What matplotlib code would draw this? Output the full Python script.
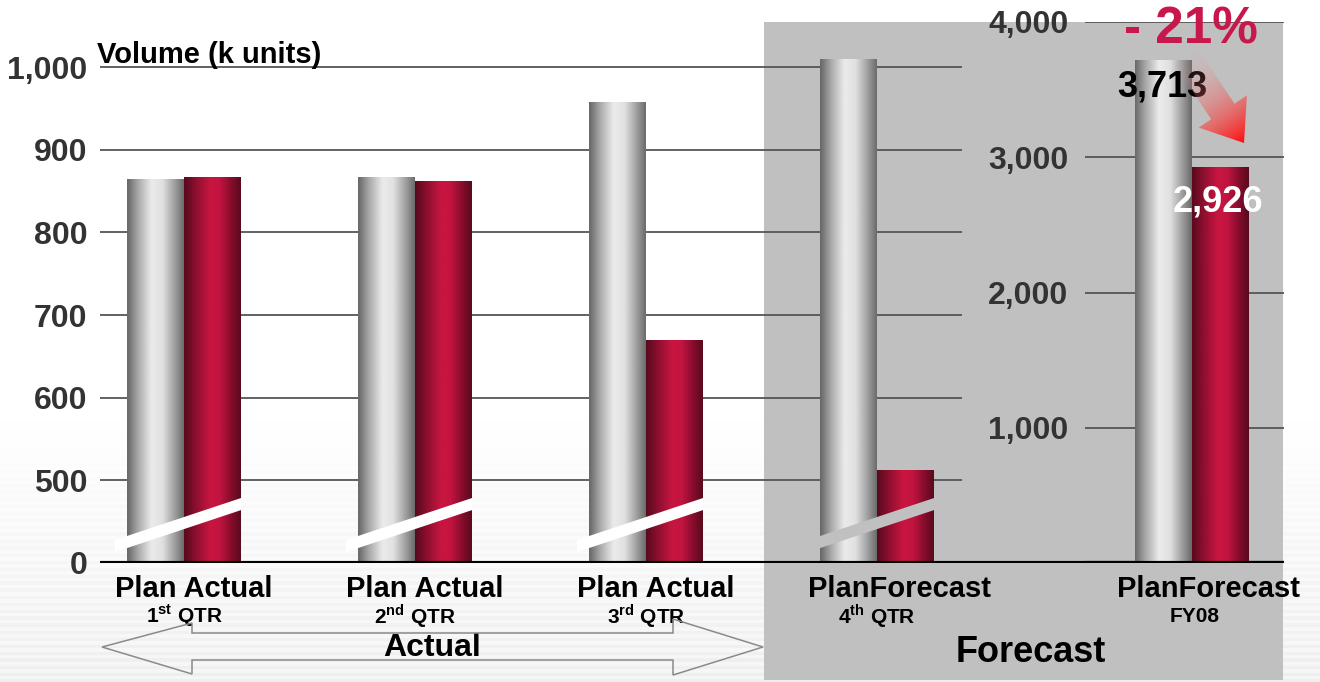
import numpy as np
import matplotlib
matplotlib.use('Agg')
import matplotlib.pyplot as plt
from matplotlib.patches import Polygon, Rectangle
from matplotlib.transforms import blended_transform_factory
from matplotlib.ticker import FuncFormatter

plt.rcParams['font.family'] = ['Liberation Sans', 'DejaVu Sans']
plt.rcParams['font.weight'] = 'bold'
plt.rcParams['mathtext.fontset'] = 'custom'
plt.rcParams['mathtext.rm'] = 'Liberation Sans:bold'
plt.rcParams['mathtext.bf'] = 'Liberation Sans:bold'

# Data
quarters = [r'1$^{\rm st}$ QTR', r'2$^{\rm nd}$ QTR', r'3$^{\rm rd}$ QTR', r'4$^{\rm th}$ QTR']
bar_names = ['Plan Actual', 'Plan Actual', 'Plan Actual', 'PlanForecast']
plan_q = [865, 868, 958, 1010]
result_q = [868, 863, 670, 513]
fy_label = 'FY08'
fy_plan = 3713
fy_forecast = 2926
left_ticks = [0, 500, 600, 700, 800, 900, 1000]
right_ticks = [1000, 2000, 3000, 4000]
change_text = '- 21%'

W, H = 1320, 682
PX = 231.0          # pixels per group step
w = 57 / PX         # bar width in group units
panel_col = '#c0c0c0'
grid_col = '#555555'
tick_col = '#333333'


def fx(px):
    return px / W


def fy(py):
    return 1 - py / H


# broken axis: 0..500 squeezed into 400..500
def fwd(v):
    v = np.asarray(v, dtype=float)
    return np.where(v >= 500, v, 400 + v / 5.0)


def inv(v):
    v = np.asarray(v, dtype=float)
    return np.where(v >= 500, v, (v - 400) * 5.0)


def gradient(stops):
    t = np.linspace(0, 1, 64)
    pos = [s[0] for s in stops]
    cols = [matplotlib.colors.to_rgb(s[1]) for s in stops]
    rgb = np.stack([np.interp(t, pos, [c[i] for c in cols]) for i in range(3)], axis=1)
    return rgb[None, :, :]


gray_grad = gradient([(0, '#6a6a6a'), (0.18, '#a8a8a8'), (0.42, '#ebebeb'),
                      (0.62, '#e0e0e0'), (0.85, '#9a9a9a'), (1, '#6a6a6a')])
red_grad = gradient([(0, '#5a0a1e'), (0.2, '#8e0f30'), (0.45, '#c81640'),
                     (0.62, '#c21440'), (0.85, '#800c2a'), (1, '#580a1c')])


def paint_bars(axis, bars, grad):
    for b in bars:
        x0 = b.get_x()
        axis.imshow(grad, extent=(x0, x0 + b.get_width(), 0, b.get_height()),
                    aspect='auto', interpolation='bicubic', zorder=2)


fig = plt.figure(figsize=(W / 100, H / 100), dpi=100)

# background with faint stripes and the grey forecast panel
bg = fig.add_axes([0, 0, 1, 1], zorder=-2)
bg.set_xlim(0, W)
bg.set_ylim(H, 0)
bg.axis('off')
rows = np.arange(H)
shade = np.ones(H)
m = rows > 420
s = (rows[m] - 420) / (H - 420)
shade[m] = 1 - s * (0.035 + 0.03 * (np.sin(2 * np.pi * rows[m] / 7) > 0))
bg.imshow(np.repeat(shade[:, None], 3, axis=1)[:, None, :], extent=(0, W, H, 0),
          aspect='auto', interpolation='nearest')
bg.add_patch(Rectangle((764, 22), 1283 - 764, 680 - 22, fc=panel_col, ec='none'))

# quarterly axes
ax = fig.add_axes([fx(100), fy(563), fx(1284) - fx(100), fy(22) - fy(563)])
ax.set_facecolor('none')
ax.set_yscale('function', functions=(fwd, inv))
centers = np.arange(len(plan_q))
b1 = ax.bar(centers - w, plan_q, width=w, align='edge', color='none', lw=0)
b2 = ax.bar(centers, result_q, width=w, align='edge', color='none', lw=0)
paint_bars(ax, b1, gray_grad)
paint_bars(ax, b2, red_grad)
ax.set_xlim((100 - 184) / PX, (1284 - 184) / PX)
ax.set_ylim(0, 1054.5)
ax.hlines(left_ticks[1:], (100 - 184) / PX, (962 - 184) / PX, color=grid_col, lw=1.3, zorder=1)
ax.axhline(0, color='black', lw=3, zorder=4)

# axis break bands
for i, c in enumerate(centers):
    xl, xr = c - w - 12 / PX, c + w
    col = 'white' if i < 3 else panel_col
    ax.add_patch(Polygon([(xl, 66), (xl, 139), (xr, 393), (xr, 320)], closed=True,
                         fc=col, ec='none', zorder=3))

ax.set_yticks(left_ticks)
ax.yaxis.set_major_formatter(FuncFormatter(lambda v, p: f'{int(round(v)):,}'))
ax.tick_params(axis='y', length=0, pad=9, labelsize=23, labelcolor=tick_col)
ax.set_xticks([])
for sp in ax.spines.values():
    sp.set_visible(False)

tr = blended_transform_factory(ax.transData, fig.transFigure)
for c, name, q in zip(centers, bar_names, quarters):
    ax.text(c - w - 0.05, fy(589), name, transform=tr, ha='left', va='center', fontsize=21)
    ax.text(c, fy(616), q, transform=tr, ha='center', va='center', fontsize=15)

# full year axes
ax2 = fig.add_axes([fx(1085), fy(563), fx(1284) - fx(1085), fy(22) - fy(563)], zorder=2)
ax2.set_facecolor('none')
f1 = ax2.bar([-w], [fy_plan], width=w, align='edge', color='none', lw=0)
f2 = ax2.bar([0], [fy_forecast], width=w, align='edge', color='none', lw=0)
paint_bars(ax2, f1, gray_grad)
paint_bars(ax2, f2, red_grad)
ax2.set_xlim((1085 - 1192) / PX, (1284 - 1192) / PX)
ax2.set_ylim(0, 4000)
ax2.hlines(right_ticks, (1085 - 1192) / PX, (1284 - 1192) / PX, color=grid_col, lw=1.3, zorder=1)
ax2.axhline(0, color='black', lw=3, zorder=4)
ax2.set_yticks(right_ticks)
ax2.yaxis.set_major_formatter(FuncFormatter(lambda v, p: f'{int(v):,}'))
ax2.tick_params(axis='y', length=0, pad=12, labelsize=23, labelcolor=tick_col)
ax2.set_xticks([])
for sp in ax2.spines.values():
    sp.set_visible(False)

ax2.annotate(f'{fy_plan:,}', (-w / 2, fy_plan), xytext=(-1, -26), textcoords='offset pixels',
             ha='center', va='center', fontsize=26, color='black', zorder=6)
ax2.annotate(f'{fy_forecast:,}', (w / 2, fy_forecast), xytext=(-3, -35), textcoords='offset pixels',
             ha='center', va='center', fontsize=26, color='white', zorder=6)
tr2 = blended_transform_factory(ax2.transData, fig.transFigure)
ax2.text(-w - 18 / PX, fy(589), 'PlanForecast', transform=tr2, ha='left', va='center', fontsize=21)
ax2.text(0.01, fy(616), fy_label, transform=tr2, ha='center', va='center', fontsize=15)

# foreground decorations
fg = fig.add_axes([0, 0, 1, 1], zorder=5)
fg.set_xlim(0, W)
fg.set_ylim(H, 0)
fg.axis('off')
fg.set_facecolor('none')

dbl = [(102, 647), (192, 623), (192, 633), (673, 633), (673, 619), (763, 647),
       (673, 675), (673, 660), (192, 660), (192, 674)]
fg.add_patch(Polygon(dbl, closed=True, fc='none', ec='#8a8a8a', lw=1.1))

# red gradient arrow
T = np.array([1187.0, 58.0])
P = np.array([1244.0, 143.0])
u = (P - T) / np.linalg.norm(P - T)
n = np.array([u[1], -u[0]])
L = np.linalg.norm(P - T)
hb = T + u * (L - 38)
pts = [T + n * 14, hb + n * 14, hb + n * 29, P, hb - n * 29, hb - n * 14, T - n * 14]
poly = Polygon(pts, closed=True, fc='none', ec='none')
fg.add_patch(poly)
xs = np.linspace(1150, 1260, 120)
ys = np.linspace(40, 150, 120)
X, Y = np.meshgrid(xs, ys)
t = np.clip(((X - T[0]) * u[0] + (Y - T[1]) * u[1]) / L, 0, 1)
rgba = np.zeros(X.shape + (4,))
rgba[..., 0] = 0.93 + 0.07 * t
rgba[..., 1] = 0.62 * (1 - t) + 0.05 * t
rgba[..., 2] = 0.62 * (1 - t) + 0.05 * t
rgba[..., 3] = 0.05 + 0.95 * t ** 1.3
im = fg.imshow(rgba, extent=(1150, 1260, 150, 40), aspect='auto', interpolation='bilinear')
im.set_clip_path(poly)

fig.text(fx(97), fy(63), 'Volume (k units)', ha='left', va='baseline', fontsize=21)
fig.text(fx(432), fy(648), 'Actual', ha='center', va='center', fontsize=23)
fig.text(fx(1031), fy(653), 'Forecast', ha='center', va='center', fontsize=26)
fig.text(fx(1191), fy(30), change_text, ha='center', va='center', fontsize=37, color='#c8174b')

fig.savefig('out.png', dpi=100)
